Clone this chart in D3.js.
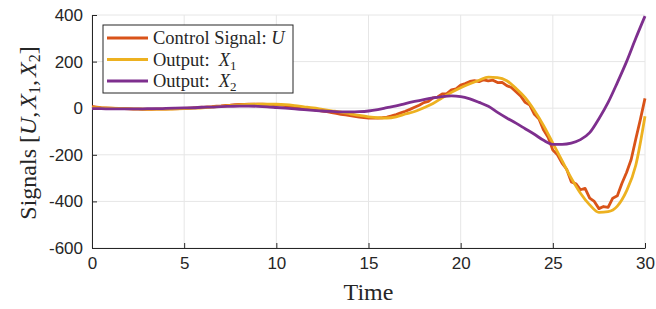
<!DOCTYPE html>
<html>
<head>
<meta charset="utf-8">
<script src="https://cdn.jsdelivr.net/npm/d3@7"></script>
<style>
  body { margin: 0; background: #fff; }
  svg { display: block; }
  .tick text { font-family: "Liberation Sans", Arial, sans-serif; font-size: 17px; fill: #262626; }
  .serif { font-family: "Liberation Serif", "DejaVu Serif", serif; fill: #262626; }
</style>
</head>
<body>
<svg width="656" height="309"></svg>
<script>
// sample times for the two outputs (step 0.5)
const timeX = d3.range(0, 30.001, 0.5);
// sample times for the control signal (step 0.25)
const timeU = d3.range(0, 30.001, 0.25);

const outputX1 = [
  2, 1, 0, -1, -2, -3, -4, -4, -4, -3,
  -2, 0, 2, 5, 8, 11, 14, 16, 17, 17,
  17, 15, 11, 6, 1, -5, -11, -17, -24, -31,
  -37, -41, -42, -37, -25, -14, 2, 20, 45, 68,
  88, 105, 120, 133, 131, 118, 85, 45, -10, -75,
  -150, -225, -300, -365, -415, -447, -444, -420, -355, -245,
  -35
];

const outputX2 = [
  -2, -2, -3, -3, -3, -3, -2, -2, -1, 0,
  1, 2, 4, 5, 7, 8, 9, 9, 8, 6,
  3, 0, -3, -6, -9, -12, -14, -16, -16, -15,
  -12, -6, 2, 10, 20, 29, 37, 44, 50, 53,
  50, 40, 25, 8, -18, -42, -64, -88, -112, -138,
  -155, -155, -150, -135, -105, -45, 25, 110, 200, 300,
  395
];

const controlU = [
  8, 5, 2, 1, 0, -1, -2, -2, -3, -4, -4, -5, -5, -5, -4, -4,
  -4, -3, -3, -2, -1, 0, 1, 3, 4, 6, 7, 9, 10, 12, 13, 15,
  16, 16, 17, 17, 17, 17, 16, 16, 14, 13, 11, 8, 6, 3, 0, -3,
  -6, -9, -12, -15, -19, -22, -26, -29, -32, -35, -38, -40, -42, -43, -43, -41,
  -38, -33, -27, -20, -13, -5, 4, 13, 24, 29, 44, 48, 61, 63, 79, 83,
  99, 106, 115, 118, 114, 122, 117, 120, 110, 111, 97, 89, 71, 53, 25, 13,
  -26, -46, -94, -126, -180, -200, -236, -262, -316, -324, -350, -344, -386, -400, -431, -422,
  -426, -386, -376, -322, -276, -220, -132, -48, 42
];

const xTicks = [0, 5, 10, 15, 20, 25, 30];
const yTicks = [-600, -400, -200, 0, 200, 400];

const colors = { U: "#D95319", X1: "#EDB120", X2: "#7E2F8E" };

const svg = d3.select("svg");
const margin = { top: 15, right: 11, bottom: 61, left: 92 };
const width = 656 - margin.left - margin.right,
      height = 309 - margin.top - margin.bottom;

const x = d3.scaleLinear().domain([0, 30]).range([0, width]);
const y = d3.scaleLinear().domain([-600, 400]).range([height, 0]);

const g = svg.append("g")
    .attr("transform", "translate(" + margin.left + "," + margin.top + ")");

// grid
g.append("g")
    .selectAll("line")
    .data(xTicks)
    .join("line")
    .attr("x1", d => x(d)).attr("x2", d => x(d))
    .attr("y1", 0).attr("y2", height)
    .attr("stroke", "#e6e6e6").attr("stroke-width", 1);
g.append("g")
    .selectAll("line")
    .data(yTicks)
    .join("line")
    .attr("x1", 0).attr("x2", width)
    .attr("y1", d => y(d)).attr("y2", d => y(d))
    .attr("stroke", "#e6e6e6").attr("stroke-width", 1);

// axes
const xAxis = g.append("g")
    .attr("transform", "translate(0," + height + ")")
    .call(d3.axisBottom(x).tickValues(xTicks).tickFormat(d => String(d))
      .tickSizeInner(-5).tickSizeOuter(0).tickPadding(9));
const yAxis = g.append("g")
    .call(d3.axisLeft(y).tickValues(yTicks).tickFormat(d => String(d))
      .tickSizeInner(-5).tickSizeOuter(0).tickPadding(9));
[xAxis, yAxis].forEach(a => {
  a.select(".domain").attr("stroke", "#262626");
  a.selectAll(".tick line").attr("stroke", "#262626");
  a.attr("font-size", null).attr("font-family", null);
});

// series
const lineU = d3.line().x((d, i) => x(timeU[i])).y(d => y(d));
const lineX = d3.line().x((d, i) => x(timeX[i])).y(d => y(d)).curve(d3.curveMonotoneX);

g.append("path").datum(controlU)
    .attr("d", lineU).attr("fill", "none")
    .attr("stroke", colors.U).attr("stroke-width", 2.8).attr("stroke-linejoin", "round");
g.append("path").datum(outputX1)
    .attr("d", lineX).attr("fill", "none")
    .attr("stroke", colors.X1).attr("stroke-width", 2.8);
g.append("path").datum(outputX2)
    .attr("d", lineX).attr("fill", "none")
    .attr("stroke", colors.X2).attr("stroke-width", 2.8);

// axis titles
svg.append("text").attr("class", "serif")
    .attr("x", margin.left + width / 2).attr("y", 300)
    .attr("text-anchor", "middle").attr("font-size", 24)
    .text("Time");

const yl = svg.append("text").attr("class", "serif")
    .attr("transform", "translate(36,133) rotate(-90)")
    .attr("text-anchor", "middle").attr("font-size", 24);
yl.append("tspan").text("Signals [");
yl.append("tspan").attr("font-style", "italic").text("U");
yl.append("tspan").text(",");
yl.append("tspan").attr("font-style", "italic").attr("dx", 3).text("X");
yl.append("tspan").attr("font-size", 16).attr("dy", 4).text("1");
yl.append("tspan").attr("dy", -4).text(",");
yl.append("tspan").attr("font-style", "italic").attr("dx", 3).text("X");
yl.append("tspan").attr("font-size", 16).attr("dy", 4).text("2");
yl.append("tspan").attr("dy", -4).text("]");

// legend
const legend = svg.append("g").attr("transform", "translate(103,25)");
legend.append("rect")
    .attr("width", 190).attr("height", 68)
    .attr("fill", "#fff").attr("stroke", "#262626").attr("stroke-width", 1);
const items = [
  { key: "U", label: "Control Signal: ", v: "U" },
  { key: "X1", label: "Output:  ", v: "X", sub: "1" },
  { key: "X2", label: "Output:  ", v: "X", sub: "2" }
];
items.forEach((d, i) => {
  const row = legend.append("g").attr("transform", "translate(0," + (13 + i * 21.5) + ")");
  row.append("line").attr("x1", 4).attr("x2", 45)
      .attr("stroke", colors[d.key]).attr("stroke-width", 2.8);
  const t = row.append("text").attr("class", "serif")
      .attr("x", 50).attr("y", 6).attr("font-size", 18.5)
      .attr("xml:space", "preserve");
  t.append("tspan").text(d.label);
  t.append("tspan").attr("font-style", "italic").text(d.v);
  if (d.sub) t.append("tspan").attr("font-size", 13).attr("dy", 4).text(d.sub);
});
</script>
</body>
</html>
